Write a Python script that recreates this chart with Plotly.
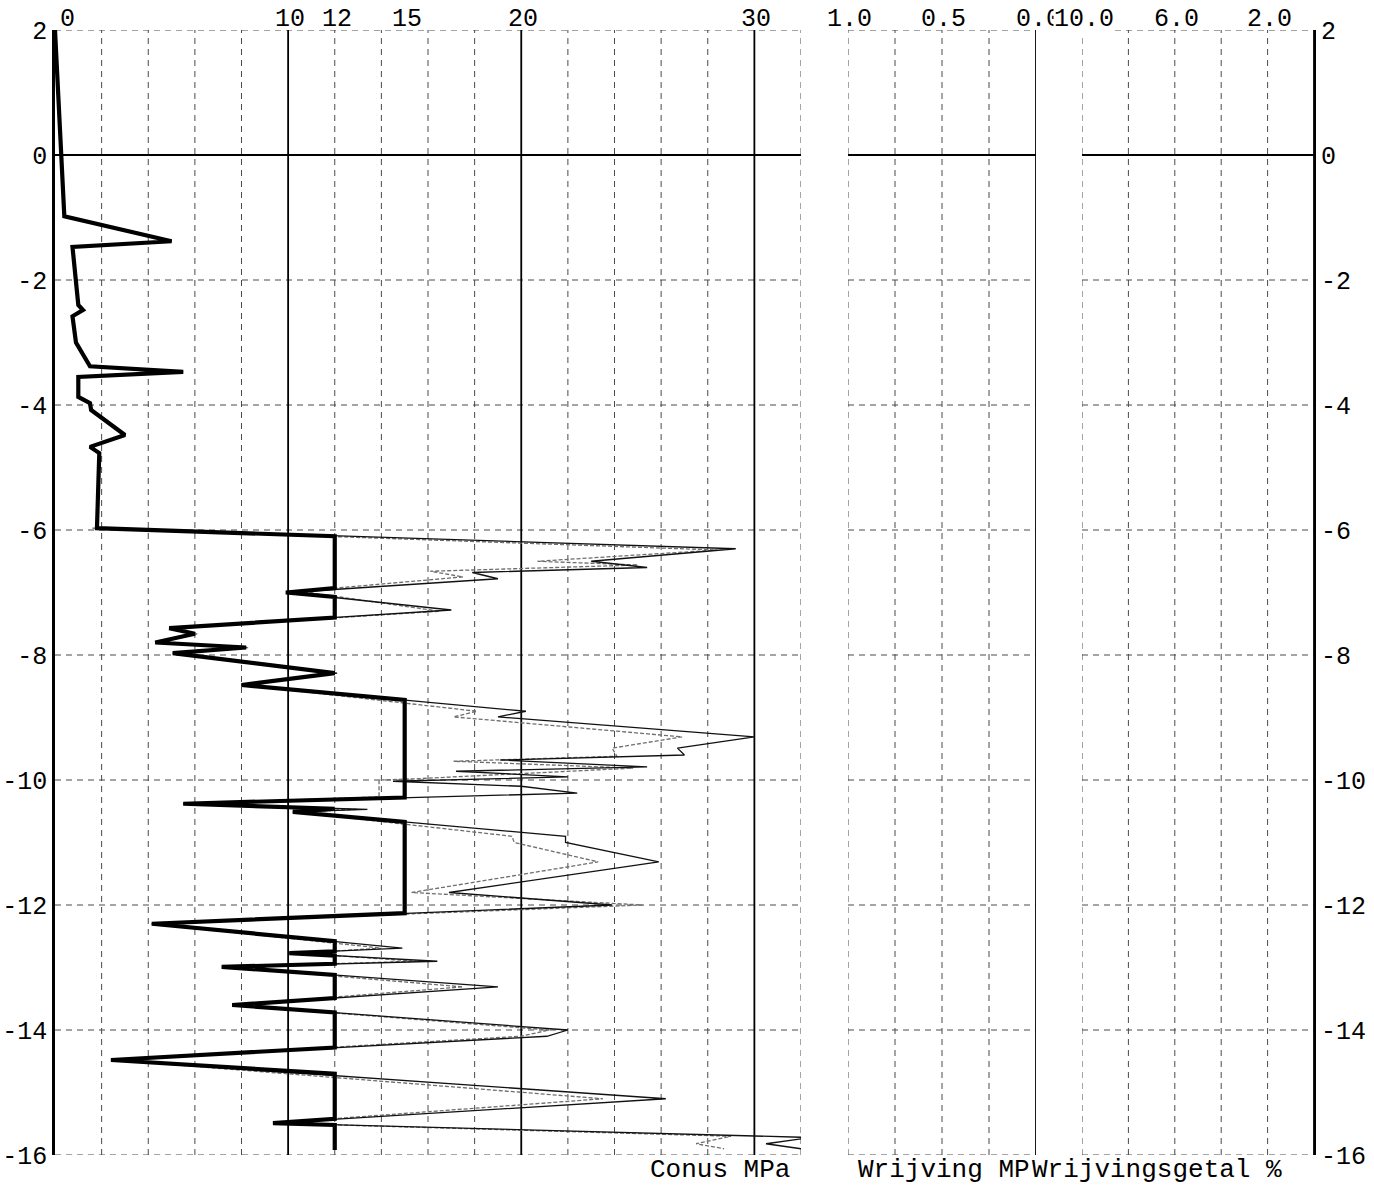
import plotly.graph_objects as go

# ---------------- data ----------------
# measured cone resistance qc (MPa) vs depth (m) - thin black trace
qc_depth = [2, 0, -0.98, -1.38, -1.47, -2.4, -2.48, -2.58, -3.0, -3.38, -3.47, -3.55, -3.87, -3.97,
            -4.08, -4.48, -4.67, -4.77, -5.97,
            -6.3, -6.5, -6.6, -6.68, -6.78, -7.0, -7.28, -7.57, -7.66, -7.8, -7.88, -7.97, -8.29,
            -8.48, -8.9, -8.99, -9.31, -9.49, -9.6, -9.68, -9.79, -9.86, -9.95, -10.02, -10.1,
            -10.21, -10.38, -10.47, -10.51, -10.9, -11.0, -11.31, -11.8, -12.0, -12.3, -12.69,
            -12.77, -12.9, -12.99, -13.31, -13.6, -13.95, -14.0, -14.1, -14.48, -15.1, -15.49,
            -15.72, -15.82, -15.9]
qc_value = [0, 0.28, 0.4, 5.0, 0.75, 1.0, 1.2, 0.75, 0.9, 1.5, 5.5, 1.0, 1.0, 1.5,
            1.55, 3.0, 1.5, 1.9, 1.8,
            29.2, 23.0, 25.4, 17.9, 19.0, 10.0, 17.0, 4.9, 6.0, 4.3, 8.2, 5.05, 12.1,
            8.0, 20.2, 19.0, 30.0, 26.7, 27.0, 19.1, 25.4, 17.2, 22.0, 14.5, 20.0,
            22.4, 5.5, 13.4, 10.2, 21.9, 21.9, 25.9, 16.9, 23.9, 4.15, 14.9,
            10.05, 16.4, 7.15, 19.0, 7.6, 20.0, 22.0, 21.1, 2.4, 26.2, 9.35,
            32.4, 30.5, 32.0]

# second (grey) qc trace
qc2_depth = [-5.97, -6.32, -6.5, -6.56, -6.66, -6.75, -6.98, -7.3, -7.57, -7.66, -7.8, -7.88,
             -7.97, -8.29, -8.48, -8.9, -8.99, -9.31, -9.49, -9.62, -9.7, -9.81, -9.98, -10.0,
             -10.27, -10.38, -10.47, -10.51, -10.9, -11.0, -11.31, -11.8, -12.0, -12.3, -12.69,
             -12.77, -12.9, -12.99, -13.31, -13.6, -14.0, -14.1, -14.48, -15.1, -15.49, -15.7,
             -15.82, -15.9]
qc2_value = [1.6, 28.4, 20.7, 25.0, 16.1, 17.5, 10.5, 16.5, 5.0, 6.1, 4.4, 8.3,
             5.1, 12.0, 8.1, 18.1, 17.1, 26.9, 23.9, 24.1, 17.1, 24.8, 15.5, 13.9,
             13.9, 5.6, 13.0, 10.3, 19.6, 19.7, 23.3, 15.3, 25.2, 4.2, 14.0,
             10.5, 15.5, 7.3, 17.5, 7.7, 21.2, 20.0, 2.5, 23.5, 9.4, 29.0,
             27.5, 28.7]

# truncated (design) qc - thick black trace
qct_depth = [2, 0, -0.98, -1.38, -1.47, -2.4, -2.48, -2.58, -3.0, -3.38, -3.47, -3.55, -3.87,
             -3.97, -4.08, -4.48, -4.67, -4.77, -5.97, -6.1, -6.93, -7.0, -7.07, -7.4, -7.57,
             -7.66, -7.8, -7.88, -7.97, -8.29, -8.48, -8.72, -10.28, -10.38, -10.46, -10.51,
             -10.67, -12.13, -12.3, -12.58, -12.74, -12.77, -12.81, -12.94, -12.99, -13.12,
             -13.49, -13.6, -13.72, -14.28, -14.48, -14.7, -15.42, -15.49, -15.52, -15.92]
qct_value = [0, 0.28, 0.4, 5.0, 0.75, 1.0, 1.2, 0.75, 0.9, 1.5, 5.5, 1.0, 1.0,
             1.5, 1.55, 3.0, 1.5, 1.9, 1.8, 12, 12, 9.9, 12, 12, 4.9,
             6.0, 4.3, 8.2, 5.05, 12.0, 8.0, 15, 15, 5.5, 12, 10.2,
             15, 15, 4.15, 12, 12, 10.05, 12, 12, 7.15, 12,
             12, 7.6, 12, 12, 2.4, 12, 12, 9.35, 12, 12]

# ---------------- axes / ticks ----------------
depth_range = [-16, 2]
depth_ticks = [2, 0, -2, -4, -6, -8, -10, -12, -14, -16]
depth_labels = ["2", "0", "-2", "-4", "-6", "-8", "-10", "-12", "-14", "-16"]
depth_grid = [2, -2, -4, -6, -8, -10, -12, -14, -16]

conus_range = [0, 32]
conus_ticks = [0, 10, 12, 15, 20, 30]
conus_labels = ["0", "10", "12", "15", "20", "30"]
conus_grid = [2, 4, 6, 8, 12, 14, 16, 18, 22, 24, 26, 28, 32]
conus_solid = [10, 20, 30]

wrijving_range = [1.0, 0.0]
wrijving_ticks = [1.0, 0.5, 0.0]
wrijving_labels = ["1.0", "0.5", "0.0"]
wrijving_grid = [1.0, 0.75, 0.5, 0.25]
wrijving_solid = [0.0]

getal_range = [10.0, 0.0]
getal_ticks = [10.0, 6.0, 2.0]
getal_labels = ["10.0", "6.0", "2.0"]
getal_grid = [10, 8, 6, 4, 2]
getal_solid = [0.0]

# ---------------- figure ----------------
W, H = 1374, 1185
ML, MR, MT, MB = 55, 60, 30, 30
PW = W - ML - MR


def px(p):
    return (p - ML) / PW


FONT = "Liberation Mono"
DASH = "6px,5px"
GRID_COL = "#4a4a4a"

fig = go.Figure()
fig.add_trace(go.Scatter(x=qc2_value, y=qc2_depth, mode="lines", xaxis="x", yaxis="y",
                         line=dict(color="#6e6e6e", width=1.3, dash="4px,2px"), showlegend=False))
fig.add_trace(go.Scatter(x=qc_value, y=qc_depth, mode="lines", xaxis="x", yaxis="y",
                         line=dict(color="#111111", width=1.3), showlegend=False))
fig.add_trace(go.Scatter(x=qct_value, y=qct_depth, mode="lines", xaxis="x", yaxis="y",
                         line=dict(color="#000000", width=4.2), showlegend=False))
# empty traces for the two friction panels
fig.add_trace(go.Scatter(x=[], y=[], xaxis="x2", yaxis="y2", showlegend=False))
fig.add_trace(go.Scatter(x=[], y=[], xaxis="x3", yaxis="y3", showlegend=False))

dom1 = [0, px(801)]
dom2 = [px(848), px(1036)]
dom3 = [px(1082), 1.0]

common_x = dict(showgrid=False, zeroline=False, showticklabels=False, showline=False, ticks="",
                automargin=False)
fig.update_layout(
    width=W, height=H,
    margin=dict(l=ML, r=MR, t=MT, b=MB, pad=0, autoexpand=False),
    paper_bgcolor="white", plot_bgcolor="white",
    xaxis=dict(domain=dom1, range=conus_range, anchor="y", **common_x),
    xaxis2=dict(domain=dom2, range=wrijving_range, anchor="y2", **common_x),
    xaxis3=dict(domain=dom3, range=getal_range, anchor="y3", **common_x),
    yaxis=dict(domain=[0, 1], range=depth_range, anchor="x", tickvals=depth_ticks,
               ticktext=depth_labels, tickfont=dict(family=FONT, size=25, color="black"),
               ticks="", showgrid=False, zeroline=False, showline=True, automargin=False,
               linecolor="black", linewidth=2.5),
    yaxis2=dict(domain=[0, 1], range=depth_range, anchor="x2", showticklabels=False,
                ticks="", showgrid=False, zeroline=False, showline=False, automargin=False),
    yaxis3=dict(domain=[0, 1], range=depth_range, anchor="x3", side="right",
                tickvals=depth_ticks, ticktext=depth_labels,
                tickfont=dict(family=FONT, size=25, color="black"),
                ticks="", showgrid=False, zeroline=False, showline=True, automargin=False,
                linecolor="black", linewidth=2),
)

shapes = []
panels = [("x", "y", conus_grid, conus_solid),
          ("x2", "y2", wrijving_grid, wrijving_solid),
          ("x3", "y3", getal_grid, getal_solid)]
for xr, yr, grid, solid in panels:
    for v in grid:
        shapes.append(dict(type="line", xref=xr, yref=yr + " domain", x0=v, x1=v, y0=0, y1=1,
                           line=dict(color=GRID_COL, width=1, dash=DASH), layer="below"))
    for v in depth_grid:
        shapes.append(dict(type="line", xref=xr + " domain", yref=yr, x0=0, x1=1, y0=v, y1=v,
                           line=dict(color=GRID_COL, width=1, dash=DASH), layer="below"))
    for v in solid:
        shapes.append(dict(type="line", xref=xr, yref=yr + " domain", x0=v, x1=v, y0=0, y1=1,
                           line=dict(color="black", width=1.8), layer="below"))
    shapes.append(dict(type="line", xref=xr + " domain", yref=yr, x0=0, x1=1, y0=0, y1=0,
                       line=dict(color="black", width=1.8), layer="below"))
fig.update_layout(shapes=shapes)

ann = []
tick_sets = [("x", conus_ticks, conus_labels), ("x2", wrijving_ticks, wrijving_labels),
             ("x3", getal_ticks, getal_labels)]
for xr, vals, labs in tick_sets:
    for v, t in zip(vals, labs):
        shift = 12 if (xr == "x" and v == 0) else 2
        ann.append(dict(x=v, xref=xr, y=1, yref="paper", text=t, showarrow=False,
                        xanchor="center", yanchor="bottom", xshift=shift, yshift=-5,
                        font=dict(family=FONT, size=25, color="black"),
                        bgcolor="white" if t == "10.0" else None, borderpad=0))

title_font = dict(family=FONT, size=26, color="black")
ann.append(dict(x=px(792), xref="paper", y=-0.0135, yref="paper", text="Conus MPa",
                showarrow=False, xanchor="right", yanchor="middle", font=title_font))
ann.append(dict(x=px(856), xref="paper", y=-0.0135, yref="paper", text="Wrijving MP",
                showarrow=False, xanchor="left", yanchor="middle", font=title_font))
ann.append(dict(x=px(1030), xref="paper", y=-0.0135, yref="paper", text="Wrijvingsgetal %",
                showarrow=False, xanchor="left", yanchor="middle", font=title_font))
fig.update_layout(annotations=ann)

fig.write_html("out.html", config={"displayModeBar": False},
               post_script="document.body.style.margin='0';document.body.style.overflow='hidden';")
